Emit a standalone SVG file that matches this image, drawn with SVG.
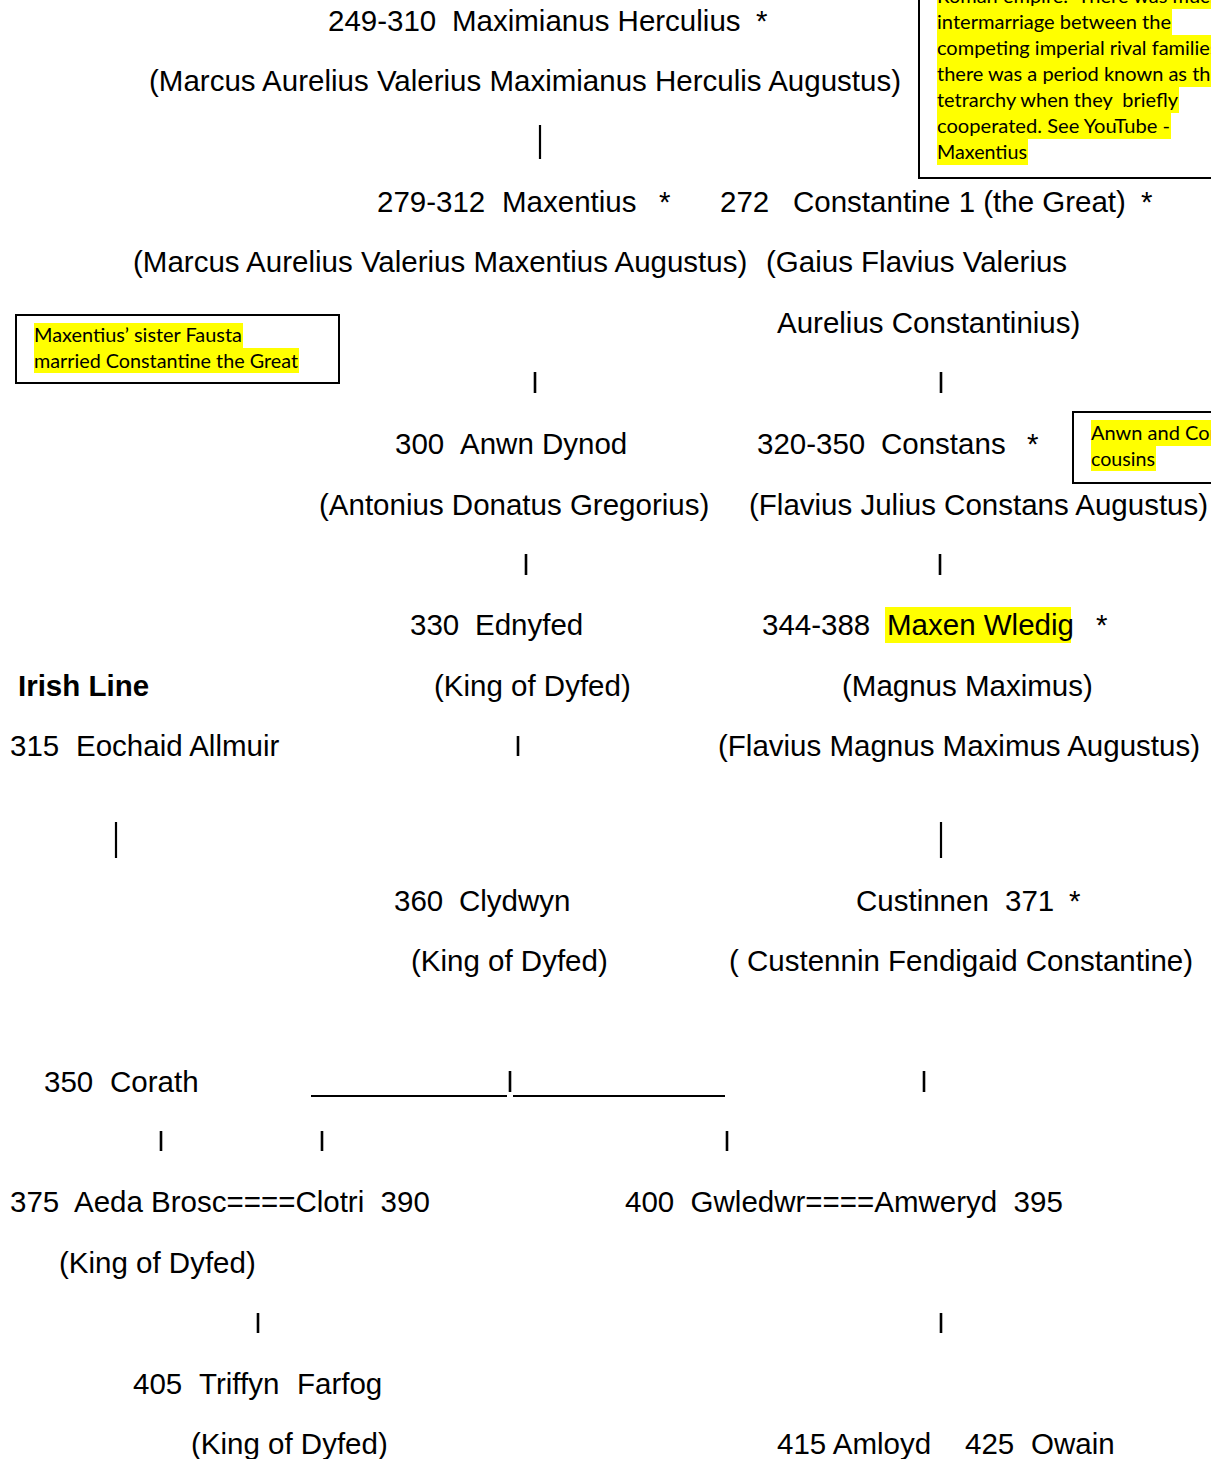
<svg xmlns="http://www.w3.org/2000/svg" width="1211" height="1459" viewBox="0 0 1211 1459">
<style>
  .t { font-family: "Liberation Sans", Arial, sans-serif; font-size: 29.5px; fill: #000; white-space: pre; }
  .b { font-weight: bold; }
  .n { font-family: "Lato", "Liberation Sans", sans-serif; font-size: 20px; fill: #000; white-space: pre; }
  .hl { fill: #ffff00; }
  .box { fill: #fff; stroke: #000; stroke-width: 2; }
  .c { stroke: #000; stroke-width: 2.6; fill: none; }
  .cb { stroke: #000; stroke-width: 2.2; fill: none; }
  .u { stroke: #000; stroke-width: 1.8; fill: none; }
</style>
<rect width="1211" height="1459" fill="#fff"/>

<g id="connectors">
  <line class="cb" x1="540" y1="125" x2="540" y2="159"/>
  <line class="c" x1="535" y1="372" x2="535" y2="393"/>
  <line class="c" x1="941" y1="372" x2="941" y2="393"/>
  <line class="c" x1="526" y1="554" x2="526" y2="575"/>
  <line class="c" x1="940" y1="554" x2="940" y2="575"/>
  <line class="c" x1="518" y1="736" x2="518" y2="756"/>
  <line class="cb" x1="116" y1="822" x2="116" y2="858"/>
  <line class="cb" x1="941" y1="822" x2="941" y2="858"/>
  <line class="u" x1="311" y1="1096" x2="507" y2="1096"/>
  <line class="c" x1="510" y1="1071" x2="510" y2="1092"/>
  <line class="u" x1="513" y1="1096" x2="725" y2="1096"/>
  <line class="c" x1="924" y1="1071" x2="924" y2="1092"/>
  <line class="c" x1="161" y1="1131" x2="161" y2="1151"/>
  <line class="c" x1="322" y1="1131" x2="322" y2="1151"/>
  <line class="c" x1="727" y1="1131" x2="727" y2="1151"/>
  <line class="c" x1="258" y1="1313" x2="258" y2="1333"/>
  <line class="c" x1="941" y1="1313" x2="941" y2="1333"/>
</g>

<g id="note-tetrarchy">
  <rect class="box" x="919" y="-10" width="310" height="188"/>
  <rect class="hl" x="937" y="-17" width="274" height="26"/>
  <rect class="hl" x="937" y="9" width="235" height="26"/>
  <rect class="hl" x="937" y="35" width="274" height="26"/>
  <rect class="hl" x="937" y="61" width="274" height="26"/>
  <rect class="hl" x="937" y="87" width="242" height="26"/>
  <rect class="hl" x="937" y="113" width="234" height="26"/>
  <rect class="hl" x="937" y="139" width="91" height="26"/>
  <text class="n" x="937" y="3">Roman empire.  There was much</text>
  <text class="n" x="937" y="29" textLength="234" lengthAdjust="spacingAndGlyphs">intermarriage between the</text>
  <text class="n" x="937" y="55">competing imperial rival families</text>
  <text class="n" x="937" y="81">there was a period known as the</text>
  <text class="n" x="937" y="107" textLength="241" lengthAdjust="spacingAndGlyphs">tetrarchy when they  briefly</text>
  <text class="n" x="937" y="133" textLength="233" lengthAdjust="spacingAndGlyphs">cooperated. See YouTube -</text>
  <text class="n" x="937" y="159" textLength="90" lengthAdjust="spacingAndGlyphs">Maxentius</text>
</g>

<g id="note-fausta">
  <rect class="box" x="16" y="315" width="323" height="68"/>
  <rect class="hl" x="34" y="323" width="209" height="25"/>
  <rect class="hl" x="34" y="348" width="265" height="25"/>
  <text class="n" x="34" y="342" textLength="208" lengthAdjust="spacingAndGlyphs">Maxentius’ sister Fausta</text>
  <text class="n" x="34" y="368" textLength="264" lengthAdjust="spacingAndGlyphs">married Constantine the Great</text>
</g>

<g id="note-cousins">
  <rect class="box" x="1073" y="412" width="160" height="71"/>
  <rect class="hl" x="1091" y="420" width="130" height="26"/>
  <rect class="hl" x="1091" y="446" width="65" height="25"/>
  <text class="n" x="1091" y="440">Anwn and Constans were</text>
  <text class="n" x="1091" y="466" textLength="64" lengthAdjust="spacingAndGlyphs">cousins</text>
</g>

<g id="maximianus">
  <text class="t" x="328" y="31">249-310</text>
  <text class="t" x="452" y="31">Maximianus Herculius</text>
  <text class="t" x="756" y="31">*</text>
  <text class="t" x="149" y="91">(Marcus Aurelius Valerius Maximianus Herculis Augustus)</text>
</g>

<g id="maxentius">
  <text class="t" x="377" y="212">279-312</text>
  <text class="t" x="502" y="212">Maxentius</text>
  <text class="t" x="659" y="212">*</text>
  <text class="t" x="133" y="272">(Marcus Aurelius Valerius Maxentius Augustus)</text>
</g>

<g id="constantine">
  <text class="t" x="720" y="212">272</text>
  <text class="t" x="793" y="212">Constantine 1 (the Great)</text>
  <text class="t" x="1141" y="212">*</text>
  <text class="t" x="766" y="272">(Gaius Flavius Valerius</text>
  <text class="t" x="777" y="333">Aurelius Constantinius)</text>
</g>

<g id="anwn">
  <text class="t" x="395" y="454">300</text>
  <text class="t" x="460" y="454">Anwn Dynod</text>
  <text class="t" x="319" y="515">(Antonius Donatus Gregorius)</text>
</g>

<g id="constans">
  <text class="t" x="757" y="454">320-350</text>
  <text class="t" x="881" y="454">Constans</text>
  <text class="t" x="1027" y="454">*</text>
  <text class="t" x="749" y="515">(Flavius Julius Constans Augustus)</text>
</g>

<g id="ednyfed">
  <text class="t" x="410" y="635">330</text>
  <text class="t" x="475" y="635">Ednyfed</text>
  <text class="t" x="434" y="696">(King of Dyfed)</text>
</g>

<g id="maxen">
  <text class="t" x="762" y="635">344-388</text>
  <rect class="hl" x="885" y="607" width="186" height="36"/>
  <text class="t" x="887" y="635">Maxen Wledig</text>
  <text class="t" x="1096" y="635">*</text>
  <text class="t" x="842" y="696">(Magnus Maximus)</text>
  <text class="t" x="718" y="756">(Flavius Magnus Maximus Augustus)</text>
</g>

<g id="irish-line">
  <text class="t b" x="18" y="696">Irish Line</text>
</g>

<g id="eochaid">
  <text class="t" x="10" y="756">315</text>
  <text class="t" x="76" y="756">Eochaid Allmuir</text>
</g>

<g id="clydwyn">
  <text class="t" x="394" y="911">360</text>
  <text class="t" x="459" y="911">Clydwyn</text>
  <text class="t" x="411" y="971">(King of Dyfed)</text>
</g>

<g id="custinnen">
  <text class="t" x="856" y="911">Custinnen</text>
  <text class="t" x="1005" y="911">371</text>
  <text class="t" x="1069" y="911">*</text>
  <text class="t" x="729" y="971">( Custennin Fendigaid Constantine)</text>
</g>

<g id="corath">
  <text class="t" x="44" y="1092">350</text>
  <text class="t" x="110" y="1092">Corath</text>
</g>

<g id="aeda-clotri">
  <text class="t" x="10" y="1212">375  Aeda Brosc====Clotri  390</text>
  <text class="t" x="59" y="1273">(King of Dyfed)</text>
</g>

<g id="gwledwr-amweryd">
  <text class="t" x="625" y="1212">400  Gwledwr====Amweryd  395</text>
</g>

<g id="triffyn">
  <text class="t" x="133" y="1394">405</text>
  <text class="t" x="199" y="1394">Triffyn</text>
  <text class="t" x="297" y="1394">Farfog</text>
  <text class="t" x="191" y="1454">(King of Dyfed)</text>
</g>

<g id="amloyd-owain">
  <text class="t" x="777" y="1454">415 Amloyd</text>
  <text class="t" x="965" y="1454">425</text>
  <text class="t" x="1031" y="1454">Owain</text>
</g>
</svg>
